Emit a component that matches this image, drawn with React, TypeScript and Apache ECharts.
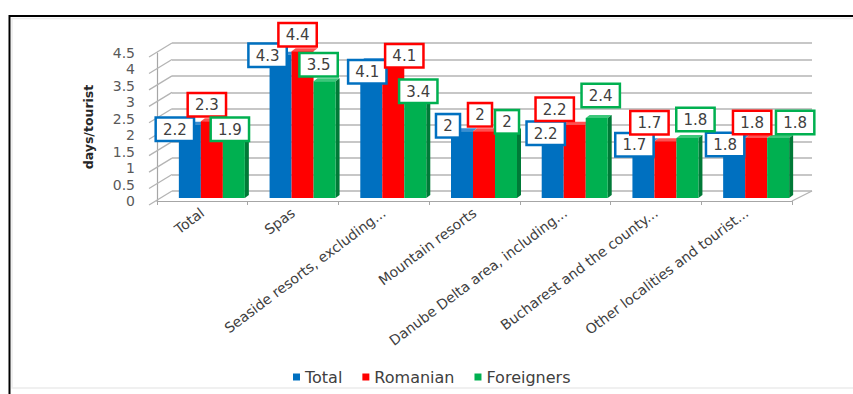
import React, { useEffect, useRef } from "react";
import * as echarts from "echarts";

const categories = [
  "Total",
  "Spas",
  "Seaside resorts, excluding...",
  "Mountain resorts",
  "Danube Delta area, including...",
  "Bucharest and the county...",
  "Other localities and tourist...",
];
const seriesNames = ["Total", "Romanian", "Foreigners"];
const totalValues = [2.2, 4.3, 4.1, 2, 2.2, 1.7, 1.8];
const romanianValues = [2.3, 4.4, 4.1, 2, 2.2, 1.7, 1.8];
const foreignerValues = [1.9, 3.5, 3.4, 2, 2.4, 1.8, 1.8];
const yTicks = [0, 0.5, 1, 1.5, 2, 2.5, 3, 3.5, 4, 4.5];
const yAxisTitle = "days/tourist";

// layout: label nudges (px) per series / category, as placed in the reference
const LABEL_NUDGES = [
  [[-15, 15], [-13, 11], [-4, 21], [-14, 5], [-7, 19], [-9, 14], [-9, 17]],
  [[-5, -6], [-5, -6], [11, 5], [-4, -6], [-20, -5], [-16, -8], [-4, -5]],
  [[-4, 5], [-6, -6], [3, 17], [1, 1], [4, -12], [8, -8], [17, -5]],
];

const FONT = "'DejaVu Sans', sans-serif";
const COLORS = ["#0070C0", "#FF0000", "#00B050"];
const TOP_COLORS = ["#3a8ed3", "#ff5050", "#3cc77a"];
const SIDE_COLORS = ["#00508a", "#b00000", "#007a37"];
const BAR_W = 22;
const DEPTH_X = 4;
const DEPTH_Y = 3;

export default function App() {
  const ref = useRef<HTMLDivElement>(null);

  useEffect(() => {
    if (!ref.current) return;
    const chart = echarts.init(ref.current, undefined, { renderer: "svg" });
    const valueSets = [totalValues, romanianValues, foreignerValues];

    const barSeries = seriesNames.map((name, s) => ({
      name,
      type: "bar",
      xAxisIndex: 2,
      yAxisIndex: 2,
      data: valueSets[s].map((v, i) => ({
        value: v,
        label: { offset: LABEL_NUDGES[s][i] },
      })),
      barWidth: BAR_W,
      barGap: "0%",
      z: 3,
      itemStyle: { color: COLORS[s] },
      label: {
        show: true,
        position: "top",
        distance: 0,
        color: "#404040",
        fontFamily: FONT,
        fontSize: 15,
        lineHeight: 18,
        backgroundColor: "#ffffff",
        borderColor: COLORS[s],
        borderWidth: 2.5,
        padding: [2, 6, 1, 6],
      },
    }));

    chart.setOption({
      animation: false,
      backgroundColor: "#ffffff",
      grid: [
        { left: 157, right: 61, top: 53, bottom: 193 },
        { left: 172, right: 41, top: 43, bottom: 203 },
        { left: 166.5, right: 51.5, top: 48, bottom: 196 },
      ],
      legend: {
        data: seriesNames,
        left: 288,
        top: 364,
        itemWidth: 7,
        itemHeight: 7,
        icon: "rect",
        itemGap: 20,
        textStyle: { fontFamily: FONT, fontSize: 16, color: "#404040" },
      },
      xAxis: [
        {
          type: "category",
          gridIndex: 0,
          data: categories,
          axisLine: { show: true, lineStyle: { color: "#a6a6a6", width: 1.2 } },
          axisTick: { show: true, length: 4, lineStyle: { color: "#a6a6a6" } },
          axisLabel: {
            interval: 0,
            rotate: 37,
            margin: 10,
            fontFamily: FONT,
            fontSize: 14,
            color: "#404040",
          },
          splitLine: { show: false },
        },
        { type: "category", gridIndex: 1, data: categories, show: false },
        { type: "category", gridIndex: 2, data: categories, show: false },
      ],
      yAxis: [
        {
          type: "value",
          gridIndex: 0,
          min: 0,
          max: 4.5,
          interval: 0.5,
          name: yAxisTitle,
          nameLocation: "middle",
          nameGap: 62,
          nameTextStyle: {
            fontFamily: FONT,
            fontWeight: "bold",
            fontSize: 12.5,
            color: "#262626",
          },
          axisLine: { show: true, lineStyle: { color: "#a6a6a6", width: 1.2 } },
          axisTick: { show: false },
          axisLabel: {
            margin: 22,
            fontFamily: FONT,
            fontSize: 14,
            lineHeight: 14,
            color: "#595959",
          },
          splitLine: { show: false },
        },
        {
          type: "value",
          gridIndex: 1,
          min: 0,
          max: 4.5,
          interval: 0.5,
          axisLine: { show: false },
          axisTick: { show: false },
          axisLabel: { show: false },
          splitLine: { show: true, lineStyle: { color: "#b4b4b4", width: 1.5 } },
        },
        {
          type: "value",
          gridIndex: 2,
          min: 0,
          max: 4.5,
          interval: 0.5,
          show: false,
          splitLine: { show: false },
        },
      ],
      series: [
        {
          type: "custom",
          xAxisIndex: 0,
          yAxisIndex: 0,
          clip: false,
          silent: true,
          z: 1,
          data: yTicks.map((v) => [0, v]),
          encode: { x: 0, y: 1 },
          renderItem: (params: any, api: any) => {
            const v = api.value(1);
            const y = api.coord([0, v])[1];
            const cs = params.coordSys;
            const children: any[] = [
              {
                type: "line",
                shape: { x1: cs.x - 8, y1: y + 4, x2: cs.x + 15, y2: y - 10 },
                style: { stroke: "#b4b4b4", lineWidth: 1.3 },
              },
            ];
            if (v === 0) {
              children.push({
                type: "line",
                shape: {
                  x1: cs.x + cs.width,
                  y1: y,
                  x2: cs.x + cs.width + 20,
                  y2: y - 10,
                },
                style: { stroke: "#b4b4b4", lineWidth: 1.3 },
              });
            }
            return { type: "group", children };
          },
        },
        {
          type: "custom",
          xAxisIndex: 2,
          yAxisIndex: 2,
          clip: false,
          silent: true,
          z: 1,
          data: categories.map((_, i) => [
            i,
            totalValues[i],
            romanianValues[i],
            foreignerValues[i],
          ]),
          encode: { x: 0, y: 1 },
          renderItem: (params: any, api: any) => {
            const idx = api.value(0);
            const base = api.coord([idx, 0]);
            const children: any[] = [];
            for (let i = 0; i < 3; i++) {
              const v = api.value(i + 1);
              const top = api.coord([idx, v])[1];
              const xl = base[0] - 1.5 * BAR_W + i * BAR_W;
              const xr = xl + BAR_W;
              children.push({
                type: "polygon",
                shape: {
                  points: [
                    [xl, top],
                    [xl + DEPTH_X, top - DEPTH_Y],
                    [xr + DEPTH_X, top - DEPTH_Y],
                    [xr, top],
                  ],
                },
                style: { fill: TOP_COLORS[i] },
              });
              if (i === 2) {
                children.push({
                  type: "polygon",
                  shape: {
                    points: [
                      [xr, top],
                      [xr + DEPTH_X, top - DEPTH_Y],
                      [xr + DEPTH_X, base[1] - DEPTH_Y],
                      [xr, base[1]],
                    ],
                  },
                  style: { fill: SIDE_COLORS[i] },
                });
              }
            }
            return { type: "group", children };
          },
        },
        ...barSeries,
      ],
      graphic: [
        {
          type: "rect",
          silent: true,
          shape: { x: 9.5, y: 16, width: 870, height: 400 },
          style: { fill: "none", stroke: "#000000", lineWidth: 2 },
          z: 10,
        },
        {
          type: "rect",
          silent: true,
          shape: { x: 12, y: 18.5, width: 870, height: 369.5 },
          style: { fill: "none", stroke: "#ececec", lineWidth: 1.5 },
          z: 10,
        },
      ],
    });

    return () => chart.dispose();
  }, []);

  return (
    <div
      ref={ref}
      style={{ position: "absolute", left: 0, top: 0, width: 853, height: 394 }}
    />
  );
}
